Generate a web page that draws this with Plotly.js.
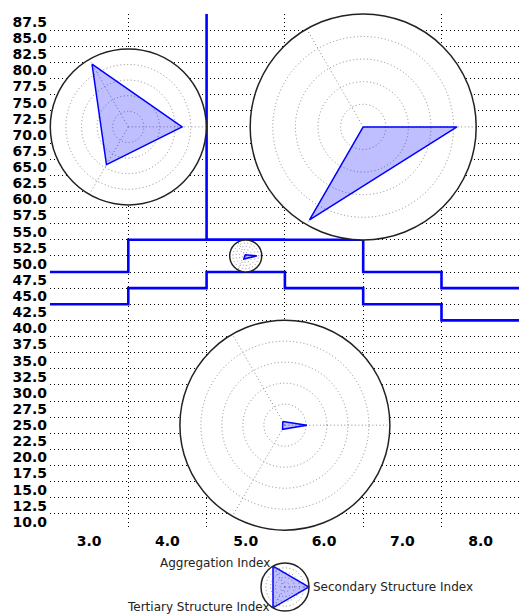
<!DOCTYPE html>
<html>
<head>
<meta charset="utf-8">
<script src="https://cdn.plot.ly/plotly-3.0.1.min.js"></script>
<style>html,body{margin:0;padding:0;background:#fff;}#chart{width:519px;height:615px;}</style>
</head>
<body>
<div id="chart"></div>
<script>
// ---- data ----
const stepEdges = [2.5, 3.5, 4.5, 5.5, 6.5, 7.5, 8.5];
const upperSeries = [48.75, 53.75, 53.75, 53.75, 48.75, 46.25, 46.25];
const lowerSeries = [43.75, 46.25, 48.75, 46.25, 43.75, 41.25, 41.25];
const spikeEdges = [3.5, 4.5, 5.5];
const spikeSeries = [100, 53.75, 53.75];

const xTickVals = [3, 4, 5, 6, 7, 8];
const yTickVals = [10, 12.5, 15, 17.5, 20, 22.5, 25, 27.5, 30, 32.5, 35, 37.5, 40, 42.5, 45, 47.5, 50, 52.5, 55, 57.5, 60, 62.5, 65, 67.5, 70, 72.5, 75, 77.5, 80, 82.5, 85, 87.5];
const xGridVals = [2.5, 3.5, 4.5, 5.5, 6.5, 7.5, 8.5];
const yGridVals = [8.75, 11.25, 13.75, 16.25, 18.75, 21.25, 23.75, 26.25, 28.75, 31.25, 33.75, 36.25, 38.75, 41.25, 43.75, 46.25, 48.75, 51.25, 53.75, 56.25, 58.75, 61.25, 63.75, 66.25, 68.75, 71.25, 73.75, 76.25, 78.75, 81.25, 83.75, 86.25, 88.75];

const radarLabels = ['Aggregation Index', 'Secondary Structure Index', 'Tertiary Structure Index'];
const radarAngles = [120, 0, 240];
const radarCenterX = [3.5, 6.5, 5.0, 5.5];
const radarCenterY = [71.25, 71.25, 51.25, 25.0];
const aggregationVals = [0.93, 0.0, 0.08, 0.04];
const secondaryVals = [0.69, 0.83, 0.70, 0.21];
const tertiaryVals = [0.56, 0.95, 0.23, 0.045];
const legendVals = [1, 1, 1];

// ---- layout constants ----
const W = 519, H = 615;
const xRange = [2.5, 8.49], yRange = [8.75, 88.75];
const xDom = [50 / W, 1];
const yDom = [85 / H, 601 / H];
const radarRadiusPx = [78, 113, 16, 105];
const legendCenterPx = [285, 587], legendRadiusPx = 24;
const legendLabelShift = [[-1, -3, 'right'], [2, 0, 'left'], [-1, -1, 'right']];

function xPx(v) { const a = xDom[0] * W, b = xDom[1] * W; return a + (v - xRange[0]) / (xRange[1] - xRange[0]) * (b - a); }
function yPx(v) { const a = H - yDom[0] * H, b = H - yDom[1] * H; return a + (v - yRange[0]) / (yRange[1] - yRange[0]) * (b - a); }
function clamp(v) { return Math.max(0, Math.min(1, v)); }
function polarDomain(px, py, r) {
  return { x: [clamp((px - r) / W), clamp((px + r) / W)], y: [clamp((H - py - r) / H), clamp((H - py + r) / H)] };
}

const blue = '#0000ff';
const gridDash = '1px,3px';
const ringDash = '1px,2.5px';
const traces = [
  { x: stepEdges, y: upperSeries, mode: 'lines', line: { shape: 'hv', color: blue, width: 2.6 }, xaxis: 'x', yaxis: 'y', hoverinfo: 'skip' },
  { x: stepEdges, y: lowerSeries, mode: 'lines', line: { shape: 'hv', color: blue, width: 2.6 }, xaxis: 'x', yaxis: 'y', hoverinfo: 'skip' },
  { x: spikeEdges, y: spikeSeries, mode: 'lines', line: { shape: 'hv', color: blue, width: 2.6 }, xaxis: 'x', yaxis: 'y', hoverinfo: 'skip' },
  { x: [], y: [], xaxis: 'x2', yaxis: 'y2', hoverinfo: 'skip' }
];

function polarAxes() {
  return {
    bgcolor: '#ffffff',
    radialaxis: { range: [0, 1], tickvals: [0.2, 0.4, 0.6, 0.8], showticklabels: false, ticks: '', showline: false,
                  gridcolor: '#8a8a8a', griddash: ringDash, gridwidth: 1 },
    angularaxis: { rotation: 0, direction: 'counterclockwise', tickvals: radarAngles,
                   showticklabels: false, ticks: '', showline: true, linecolor: '#222', linewidth: 1.5,
                   gridcolor: '#8a8a8a', griddash: ringDash, gridwidth: 1 }
  };
}

const layout = {
  width: W, height: H,
  margin: { l: 0, r: 0, t: 0, b: 0 },
  paper_bgcolor: '#fff', plot_bgcolor: '#fff',
  showlegend: false,
  xaxis: { domain: xDom, range: xRange, tickvals: xGridVals, showticklabels: false, showgrid: true, griddash: gridDash,
           gridcolor: '#000', gridwidth: 1, zeroline: false, showline: false, ticks: '', anchor: 'y' },
  yaxis: { domain: yDom, range: yRange, tickvals: yGridVals, showticklabels: false, showgrid: true, griddash: gridDash,
           gridcolor: '#000', gridwidth: 1, zeroline: false, showline: false, ticks: '', anchor: 'x' },
  xaxis2: { overlaying: 'x', anchor: 'y', range: xRange, tickvals: xTickVals, tickformat: '.1f', showgrid: false,
            zeroline: false, showline: false, ticks: '', ticklabelstandoff: 1,
            tickfont: { family: 'DejaVu Sans', size: 14, weight: 'bold', color: '#000' } },
  yaxis2: { overlaying: 'y', anchor: 'x', range: yRange, tickvals: yTickVals, tickformat: '.1f', showgrid: false,
            zeroline: false, showline: false, ticks: '', ticklabelstandoff: 2, side: 'left',
            tickfont: { family: 'DejaVu Sans', size: 14, weight: 'bold', color: '#000' } },
  annotations: []
};

for (let i = 0; i < radarCenterX.length; i++) {
  const key = 'polar' + (i === 0 ? '' : i + 1);
  const p = polarAxes();
  p.domain = polarDomain(xPx(radarCenterX[i]), yPx(radarCenterY[i]), radarRadiusPx[i]);
  layout[key] = p;
  const r = [aggregationVals[i], secondaryVals[i], tertiaryVals[i]];
  traces.push({ type: 'scatterpolar', subplot: key, r: r.concat([r[0]]), theta: radarAngles.concat([radarAngles[0]]),
    mode: 'lines', fill: 'toself', fillcolor: 'rgba(0,0,255,0.25)', line: { color: blue, width: 1.5 }, hoverinfo: 'skip' });
}
const lp = polarAxes();
lp.domain = polarDomain(legendCenterPx[0], legendCenterPx[1], legendRadiusPx);
layout.polar5 = lp;
traces.push({ type: 'scatterpolar', subplot: 'polar5', r: legendVals.concat([legendVals[0]]), theta: radarAngles.concat([radarAngles[0]]),
  mode: 'lines', fill: 'toself', fillcolor: 'rgba(0,0,255,0.25)', line: { color: blue, width: 1.5 }, hoverinfo: 'skip' });

// axis labels of the legend radar, placed at the tip of each axis
radarLabels.forEach((lab, k) => {
  const a = radarAngles[k] * Math.PI / 180;
  const px = legendCenterPx[0] + legendRadiusPx * Math.cos(a) + legendLabelShift[k][0];
  const py = legendCenterPx[1] - legendRadiusPx * Math.sin(a) + legendLabelShift[k][1];
  layout.annotations.push({ text: lab, xref: 'paper', yref: 'paper', x: px / W, y: (H - py) / H,
    xanchor: legendLabelShift[k][2], yanchor: 'middle', showarrow: false,
    font: { family: 'DejaVu Sans', size: 12, color: '#222' } });
});

Plotly.newPlot('chart', traces, layout, { displayModeBar: false, staticPlot: true });
</script>
</body>
</html>
